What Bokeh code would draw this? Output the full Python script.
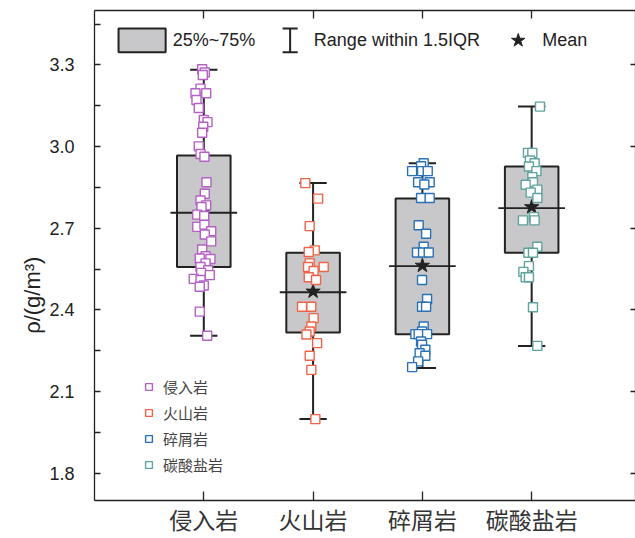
import numpy as np
from bokeh.plotting import figure
from bokeh.models import (Range1d, LinearAxis, FixedTicker, Legend, LegendItem,
                          PrintfTickFormatter)
from bokeh.embed import file_html
from bokeh.resources import INLINE
from bokeh.core.properties import value

# ---------------- data ----------------
categories = ["侵入岩", "火山岩", "碎屑岩", "碳酸盐岩"]
colors = ["#b460c4", "#ef6448", "#2a70b4", "#5fa39f"]

q1 = [2.558, 2.317, 2.311, 2.610]
q3 = [2.967, 2.610, 2.809, 2.927]
median = [2.757, 2.465, 2.561, 2.774]
mean = [2.762, 2.468, 2.563, 2.778]
whisker_low = [2.305, 1.999, 2.187, 2.268]
whisker_high = [3.282, 2.866, 2.939, 3.147]

rho_intrusive = [3.284, 3.272, 3.263, 3.213, 3.196, 3.196, 3.171, 3.142, 3.098, 3.090,
                 3.073, 3.051, 3.001, 2.973, 2.963, 2.869, 2.827, 2.802, 2.784, 2.778,
                 2.750, 2.745, 2.705, 2.713, 2.689, 2.677, 2.652, 2.622, 2.597, 2.589,
                 2.587, 2.571, 2.558, 2.546, 2.536, 2.528, 2.514, 2.510, 2.490, 2.485,
                 2.394, 2.305]
jitter_intrusive = [-0.015, 0.009, -0.009, -0.030, -0.076, 0.022, -0.067, -0.046, 0.0, 0.034,
                    -0.005, -0.015, -0.046, -0.030, 0.006, 0.025, 0.009, -0.030, 0.022, -0.021,
                    -0.060, 0.004, -0.060, 0.006, 0.068, 0.009, 0.068, -0.015, 0.016, -0.037,
                    0.061, 0.016, -0.030, 0.040, -0.024, 0.055, -0.092, -0.030, 0.0, -0.037,
                    -0.037, 0.031]

rho_volcanic = [2.866, 2.809, 2.708, 2.619, 2.613, 2.571, 2.558, 2.558, 2.543, 2.520,
                2.510, 2.412, 2.412, 2.370, 2.339, 2.321, 2.310, 2.278, 2.232, 2.180, 1.999]
jitter_volcanic = [-0.071, 0.046, -0.031, 0.015, -0.040, -0.031, -0.046, 0.097, 0.005, -0.040,
                   0.027, -0.101, -0.016, 0.005, -0.016, -0.031, -0.061, 0.037, -0.031, -0.016, 0.021]

rho_clastic = [2.939, 2.928, 2.910, 2.910, 2.910, 2.869, 2.869, 2.861, 2.811, 2.811,
               2.711, 2.680, 2.632, 2.611, 2.611, 2.611, 2.510, 2.440, 2.412, 2.412,
               2.339, 2.321, 2.311, 2.311, 2.311, 2.284, 2.272, 2.254, 2.241, 2.232,
               2.211, 2.190]
jitter_clastic = [0.012, -0.012, -0.094, -0.003, 0.049, -0.039, 0.067, 0.018, -0.012, 0.067,
                  -0.034, 0.034, 0.012, -0.049, 0.006, 0.058, -0.003, 0.043, -0.003, 0.034,
                  0.012, -0.003, -0.064, -0.034, 0.043, -0.012, -0.003, 0.027, -0.025, 0.027,
                  -0.039, -0.094]

rho_carbonate = [3.147, 2.977, 2.977, 2.949, 2.939, 2.927, 2.910, 2.888, 2.869, 2.860,
                 2.842, 2.831, 2.811, 2.741, 2.729, 2.729, 2.632, 2.610, 2.610, 2.561,
                 2.540, 2.520, 2.520, 2.410, 2.268]
jitter_carbonate = [0.076, -0.034, 0.006, -0.016, 0.027, -0.025, 0.043, 0.006, 0.012, -0.055,
                    0.052, -0.009, 0.052, 0.021, -0.080, 0.027, 0.052, -0.030, 0.012, -0.025,
                    -0.076, -0.055, -0.025, 0.012, 0.052]

y_ticks = [1.8, 2.1, 2.4, 2.7, 3.0, 3.3]
y_minor_ticks = [1.95, 2.25, 2.55, 2.85, 3.15, 3.45]
legend_labels = ["25%~75%", "Range within 1.5IQR", "Mean"]
y_title = "ρ/(g/m³)"

samples = [rho_intrusive, rho_volcanic, rho_clastic, rho_carbonate]
jitters = [jitter_intrusive, jitter_volcanic, jitter_clastic, jitter_carbonate]
positions = [1, 2, 3, 4]

# ---------------- style ----------------
LATIN = "Liberation Sans"
CJK = "Noto Sans CJK SC"
INK = "#222222"
BOX_FILL = "#c8c8ca"
BOX_W = 0.49
CAP_W = 0.25
MED_W = 0.61

p = figure(width=635, height=538, x_range=Range1d(0, 4.95), y_range=Range1d(1.7, 3.5),
           output_backend="svg", toolbar_location=None,
           min_border_left=94, min_border_top=10, min_border_bottom=0, min_border_right=0)
p.grid.visible = False
p.outline_line_color = None
p.background_fill_color = "white"

# axes
xa = p.xaxis[0]
xa.ticker = FixedTicker(ticks=positions, minor_ticks=[])
xa.major_label_overrides = {pos: c for pos, c in zip(positions, categories)}
xa.major_tick_in = 9
xa.major_tick_out = 0
xa.major_label_text_font = CJK
xa.major_label_text_font_size = "23px"
xa.major_label_text_color = "#333333"
xa.major_label_standoff = 1
xa.axis_line_color = INK
xa.axis_line_width = 1.3
xa.major_tick_line_color = INK
xa.major_tick_line_width = 1.3

ya = p.yaxis[0]
ya.ticker = FixedTicker(ticks=y_ticks, minor_ticks=y_minor_ticks)
ya.formatter = PrintfTickFormatter(format="%.1f")
ya.major_tick_in = 6
ya.major_tick_out = 0
ya.minor_tick_in = 6
ya.minor_tick_out = 0
ya.major_label_text_font = LATIN
ya.major_label_text_font_size = "18px"
ya.major_label_text_color = INK
ya.major_label_standoff = 20
ya.axis_line_color = INK
ya.axis_line_width = 1.3
ya.major_tick_line_color = INK
ya.minor_tick_line_color = INK
ya.major_tick_line_width = 1.3
ya.minor_tick_line_width = 1.3
# title shifted below the frame centre like the reference (padding at its top end)
ya.axis_label = y_title + "\u00a0" * 13
ya.axis_label_text_font = LATIN
ya.axis_label_text_font_size = "22px"
ya.axis_label_text_font_style = "normal"
ya.axis_label_text_color = INK
ya.axis_label_standoff = 1

top_axis = LinearAxis(ticker=FixedTicker(ticks=positions, minor_ticks=[]),
                      major_tick_in=8, major_tick_out=0, major_label_text_font_size="0px",
                      major_label_text_color=None, axis_label_standoff=0,
                      major_label_standoff=0, axis_line_color=INK, axis_line_width=1.3,
                      major_tick_line_color=INK, major_tick_line_width=1.3)
p.add_layout(top_axis, "above")
right_axis = LinearAxis(ticker=FixedTicker(ticks=y_ticks, minor_ticks=[]),
                        major_tick_in=5, major_tick_out=0, major_label_text_font_size="0px",
                        major_label_text_color=None, axis_label_standoff=0,
                        major_label_standoff=0, axis_line_color=INK, axis_line_width=1.3,
                        major_tick_line_color=INK, major_tick_line_width=1.3)
p.add_layout(right_axis, "right")

# boxes
pos = np.array(positions, dtype=float)
p.quad(left=pos - BOX_W / 2, right=pos + BOX_W / 2, bottom=q1, top=q3,
       fill_color=BOX_FILL, line_color=INK, line_width=2)
p.segment(x0=pos, y0=q3, x1=pos, y1=whisker_high, line_color=INK, line_width=2)
p.segment(x0=pos, y0=whisker_low, x1=pos, y1=q1, line_color=INK, line_width=2)
p.segment(x0=pos - CAP_W / 2, y0=whisker_high, x1=pos + CAP_W / 2, y1=whisker_high,
          line_color=INK, line_width=2)
p.segment(x0=pos - CAP_W / 2, y0=whisker_low, x1=pos + CAP_W / 2, y1=whisker_low,
          line_color=INK, line_width=2)
p.segment(x0=pos - MED_W / 2, y0=median, x1=pos + MED_W / 2, y1=median,
          line_color=INK, line_width=1.8)
p.scatter(x=pos, y=mean, marker="star", size=15, fill_color=INK, line_color=INK)

# points
point_renderers = []
for i, (vals, jit) in enumerate(zip(samples, jitters)):
    xs = positions[i] + np.array(jit)
    r = p.scatter(x=xs, y=vals, marker="square", size=9, fill_color="white",
                  line_color=colors[i], line_width=1.4)
    point_renderers.append(r)

legend = Legend(items=[LegendItem(label=c, renderers=[r]) for c, r in zip(categories, point_renderers)],
                location=(46, 25), orientation="vertical",
                glyph_width=17, glyph_height=17, label_height=17, spacing=5,
                label_standoff=6, padding=0, margin=0,
                border_line_color=None, background_fill_alpha=0,
                label_text_font=CJK, label_text_font_size="15px", label_text_color="#444444")
p.add_layout(legend)

# top legend (drawn inside the frame)
LG_Y = 3.39
LG_H = 0.087
p.quad(left=[0.22], right=[0.651], bottom=[LG_Y - LG_H / 2], top=[LG_Y + LG_H / 2],
       fill_color=BOX_FILL, line_color=INK, line_width=2)
ibar_x = 1.79
p.segment(x0=[ibar_x], y0=[LG_Y - LG_H / 2], x1=[ibar_x], y1=[LG_Y + LG_H / 2],
          line_color=INK, line_width=2)
p.segment(x0=[ibar_x - 0.069, ibar_x - 0.069], y0=[LG_Y - LG_H / 2, LG_Y + LG_H / 2],
          x1=[ibar_x + 0.069, ibar_x + 0.069], y1=[LG_Y - LG_H / 2, LG_Y + LG_H / 2],
          line_color=INK, line_width=2)
p.scatter(x=[3.877], y=[LG_Y], marker="star", size=14, fill_color=INK, line_color=INK)
p.text(x=[0.715, 2.007, 4.097], y=[LG_Y] * 3, text=legend_labels,
       text_font=value(LATIN), text_font_size="18px", text_color=INK,
       text_baseline="middle", text_align="left")

open("out.html", "w").write(file_html(p, INLINE))
